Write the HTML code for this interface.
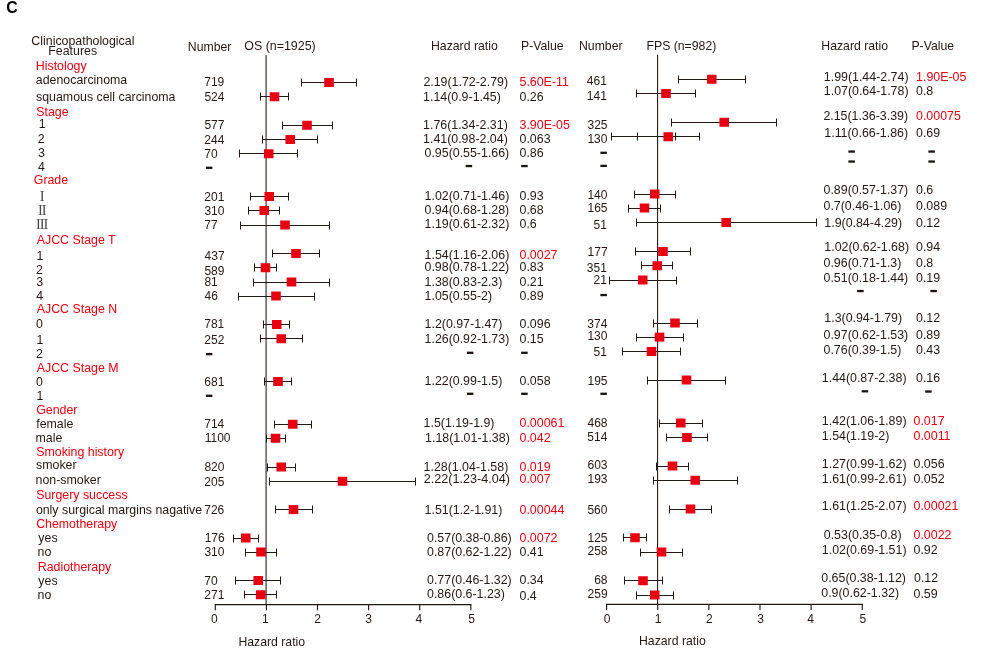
<!DOCTYPE html>
<html><head><meta charset="utf-8"><title>Forest plot</title>
<style>
html,body{margin:0;padding:0;background:#fff;}
svg{display:block;will-change:transform;}
text{font-family:"Liberation Sans",sans-serif;}
.b{font-family:"Liberation Sans",sans-serif;font-weight:bold;}
.s{font-family:"Liberation Serif",serif;}
</style></head>
<body>
<svg width="981" height="664" viewBox="0 0 981 664">
<rect x="0" y="0" width="981" height="664" fill="#ffffff"/>
<line x1="266.15" y1="55" x2="266.15" y2="604.6" stroke="#777170" stroke-width="1.75"/>
<line x1="657.55" y1="54.7" x2="657.55" y2="604.3" stroke="#2e2320" stroke-width="1.15"/>
<g stroke="#231815" stroke-width="1.15" fill="none"><line x1="214.75" y1="604.60" x2="471.35" y2="604.60"/><line x1="215.30" y1="604.60" x2="215.30" y2="610.20"/><line x1="266.40" y1="604.60" x2="266.40" y2="610.20"/><line x1="317.50" y1="604.60" x2="317.50" y2="610.20"/><line x1="368.60" y1="604.60" x2="368.60" y2="610.20"/><line x1="419.70" y1="604.60" x2="419.70" y2="610.20"/><line x1="470.80" y1="604.60" x2="470.80" y2="610.20"/></g>
<g stroke="#231815" stroke-width="1.15" fill="none"><line x1="606.05" y1="604.30" x2="862.80" y2="604.30"/><line x1="606.60" y1="604.30" x2="606.60" y2="609.90"/><line x1="657.73" y1="604.30" x2="657.73" y2="609.90"/><line x1="708.86" y1="604.30" x2="708.86" y2="609.90"/><line x1="759.99" y1="604.30" x2="759.99" y2="609.90"/><line x1="811.12" y1="604.30" x2="811.12" y2="609.90"/><line x1="862.25" y1="604.30" x2="862.25" y2="609.90"/></g>
<g stroke="#231815" stroke-width="1" fill="none">
<path d="M301.00 82.50H357.00M301.50 78.50V86.50M356.50 78.50V86.50"/>
<path d="M260.00 96.50H289.00M260.50 92.50V100.50M288.50 92.50V100.50"/>
<path d="M282.00 125.50H333.00M282.50 121.50V129.50M332.50 121.50V129.50"/>
<path d="M262.00 139.50H318.00M262.50 135.50V143.50M317.50 135.50V143.50"/>
<path d="M239.00 153.50H298.00M239.50 149.50V157.50M297.50 149.50V157.50"/>
<path d="M250.00 196.50H289.00M250.50 192.50V200.50M288.50 192.50V200.50"/>
<path d="M248.00 210.50H280.00M248.50 206.50V214.50M279.50 206.50V214.50"/>
<path d="M240.00 225.50H330.00M240.50 221.50V229.50M329.50 221.50V229.50"/>
<path d="M272.00 253.50H320.00M272.50 249.50V257.50M319.50 249.50V257.50"/>
<path d="M254.00 267.50H277.00M254.50 263.50V271.50M276.50 263.50V271.50"/>
<path d="M253.00 282.50H330.00M253.50 278.50V286.50M329.50 278.50V286.50"/>
<path d="M238.00 296.50H315.00M238.50 292.50V300.50M314.50 292.50V300.50"/>
<path d="M263.00 324.50H290.00M263.50 320.50V328.50M289.50 320.50V328.50"/>
<path d="M260.00 338.50H303.00M260.50 334.50V342.50M302.50 334.50V342.50"/>
<path d="M264.00 381.50H292.00M264.50 377.50V385.50M291.50 377.50V385.50"/>
<path d="M274.00 424.50H312.00M274.50 420.50V428.50M311.50 420.50V428.50"/>
<path d="M266.00 438.50H286.00M266.50 434.50V442.50M285.50 434.50V442.50"/>
<path d="M267.00 467.50H296.00M267.50 463.50V471.50M295.50 463.50V471.50"/>
<path d="M269.00 481.50H416.00M269.50 477.50V485.50M415.50 477.50V485.50"/>
<path d="M275.00 509.50H313.00M275.50 505.50V513.50M312.50 505.50V513.50"/>
<path d="M233.00 538.50H259.00M233.50 534.50V542.50M258.50 534.50V542.50"/>
<path d="M245.00 552.50H277.00M245.50 548.50V556.50M276.50 548.50V556.50"/>
<path d="M235.00 580.50H281.00M235.50 576.50V584.50M280.50 576.50V584.50"/>
<path d="M244.00 594.50H277.00M244.50 590.50V598.50M276.50 590.50V598.50"/>
<path d="M678.00 79.50H746.00M678.50 75.50V83.50M745.50 75.50V83.50"/>
<path d="M636.00 93.50H696.00M636.50 89.50V97.50M695.50 89.50V97.50"/>
<path d="M671.00 122.50H777.00M671.50 118.50V126.50M776.50 118.50V126.50"/>
<path d="M611.00 136.50H700.00M611.50 132.50V140.50M699.50 132.50V140.50"/>
<path d="M634.00 194.50H676.00M634.50 190.50V198.50M675.50 190.50V198.50"/>
<path d="M628.00 208.50H661.00M628.50 204.50V212.50M660.50 204.50V212.50"/>
<path d="M636.00 222.50H817.00M636.50 218.50V226.50M816.50 218.50V226.50"/>
<path d="M635.00 251.50H691.00M635.50 247.50V255.50M690.50 247.50V255.50"/>
<path d="M641.00 265.50H673.00M641.50 261.50V269.50M672.50 261.50V269.50"/>
<path d="M609.00 280.50H677.00M609.50 276.50V284.50M676.50 276.50V284.50"/>
<path d="M653.00 323.50H698.00M653.50 319.50V327.50M697.50 319.50V327.50"/>
<path d="M636.00 337.50H684.00M636.50 333.50V341.50M683.50 333.50V341.50"/>
<path d="M622.00 351.50H681.00M622.50 347.50V355.50M680.50 347.50V355.50"/>
<path d="M647.00 380.50H726.00M647.50 376.50V384.50M725.50 376.50V384.50"/>
<path d="M659.00 423.50H703.00M659.50 419.50V427.50M702.50 419.50V427.50"/>
<path d="M666.00 437.50H708.00M666.50 433.50V441.50M707.50 433.50V441.50"/>
<path d="M656.00 466.50H689.00M656.50 462.50V470.50M688.50 462.50V470.50"/>
<path d="M653.00 480.50H738.00M653.50 476.50V484.50M737.50 476.50V484.50"/>
<path d="M669.00 509.50H712.00M669.50 505.50V513.50M711.50 505.50V513.50"/>
<path d="M623.00 537.50H647.00M623.50 533.50V541.50M646.50 533.50V541.50"/>
<path d="M640.00 552.50H683.00M640.50 548.50V556.50M682.50 548.50V556.50"/>
<path d="M624.00 580.50H663.00M624.50 576.50V584.50M662.50 576.50V584.50"/>
<path d="M636.00 595.50H674.00M636.50 591.50V599.50M673.50 591.50V599.50"/>
<path d="M637.50 132.50V140.50"/>
<path d="M675.50 132.50V140.50"/>
</g>
<g fill="#e60012">
<rect x="324.20" y="78.00" width="9.60" height="9.00"/>
<rect x="269.70" y="92.25" width="9.60" height="9.00"/>
<rect x="302.20" y="120.75" width="9.60" height="9.00"/>
<rect x="285.45" y="135.00" width="9.60" height="9.00"/>
<rect x="263.95" y="149.25" width="9.60" height="9.00"/>
<rect x="264.45" y="192.00" width="9.60" height="9.00"/>
<rect x="259.45" y="206.00" width="9.60" height="9.00"/>
<rect x="280.20" y="220.50" width="9.60" height="9.00"/>
<rect x="291.20" y="249.00" width="9.60" height="9.00"/>
<rect x="260.70" y="263.25" width="9.60" height="9.00"/>
<rect x="286.70" y="277.50" width="9.60" height="9.00"/>
<rect x="271.20" y="291.50" width="9.60" height="9.00"/>
<rect x="271.95" y="320.00" width="9.60" height="9.00"/>
<rect x="276.45" y="334.25" width="9.60" height="9.00"/>
<rect x="273.20" y="377.00" width="9.60" height="9.00"/>
<rect x="287.95" y="419.75" width="9.60" height="9.00"/>
<rect x="270.70" y="433.75" width="9.60" height="9.00"/>
<rect x="276.45" y="462.50" width="9.60" height="9.00"/>
<rect x="337.70" y="476.75" width="9.60" height="9.00"/>
<rect x="288.70" y="505.10" width="9.60" height="9.00"/>
<rect x="240.95" y="533.50" width="9.60" height="9.00"/>
<rect x="256.20" y="547.50" width="9.60" height="9.00"/>
<rect x="253.45" y="576.00" width="9.60" height="9.00"/>
<rect x="255.95" y="590.25" width="9.60" height="9.00"/>
<rect x="706.95" y="74.75" width="9.60" height="9.00"/>
<rect x="661.20" y="89.00" width="9.60" height="9.00"/>
<rect x="719.45" y="117.75" width="9.60" height="9.00"/>
<rect x="663.45" y="132.25" width="9.60" height="9.00"/>
<rect x="649.95" y="189.50" width="9.60" height="9.00"/>
<rect x="639.70" y="203.50" width="9.60" height="9.00"/>
<rect x="721.45" y="218.00" width="9.60" height="9.00"/>
<rect x="658.20" y="247.00" width="9.60" height="9.00"/>
<rect x="652.45" y="261.25" width="9.60" height="9.00"/>
<rect x="637.95" y="275.50" width="9.60" height="9.00"/>
<rect x="670.20" y="318.50" width="9.60" height="9.00"/>
<rect x="654.70" y="332.60" width="9.60" height="9.00"/>
<rect x="646.70" y="347.00" width="9.60" height="9.00"/>
<rect x="681.70" y="375.50" width="9.60" height="9.00"/>
<rect x="675.95" y="418.50" width="9.60" height="9.00"/>
<rect x="682.20" y="433.00" width="9.60" height="9.00"/>
<rect x="667.70" y="461.50" width="9.60" height="9.00"/>
<rect x="690.45" y="475.75" width="9.60" height="9.00"/>
<rect x="685.70" y="504.50" width="9.60" height="9.00"/>
<rect x="630.20" y="533.25" width="9.60" height="9.00"/>
<rect x="656.70" y="547.50" width="9.60" height="9.00"/>
<rect x="638.20" y="576.25" width="9.60" height="9.00"/>
<rect x="649.95" y="590.50" width="9.60" height="9.00"/>
</g>
<g fill="#1a1311">
<rect x="205.90" y="166.65" width="6.5" height="2.3"/>
<rect x="205.90" y="352.95" width="6.5" height="2.3"/>
<rect x="205.90" y="394.65" width="6.5" height="2.3"/>
<rect x="465.65" y="164.90" width="6.5" height="2.3"/>
<rect x="466.90" y="351.65" width="6.5" height="2.3"/>
<rect x="466.90" y="392.65" width="6.5" height="2.3"/>
<rect x="521.15" y="164.90" width="6.5" height="2.3"/>
<rect x="521.15" y="351.65" width="6.5" height="2.3"/>
<rect x="521.15" y="392.65" width="6.5" height="2.3"/>
<rect x="600.40" y="151.65" width="6.5" height="2.3"/>
<rect x="600.40" y="164.75" width="6.5" height="2.3"/>
<rect x="600.40" y="293.90" width="6.5" height="2.3"/>
<rect x="600.40" y="392.65" width="6.5" height="2.3"/>
<rect x="848.40" y="150.40" width="6.5" height="2.3"/>
<rect x="848.40" y="160.40" width="6.5" height="2.3"/>
<rect x="857.15" y="289.90" width="6.5" height="2.3"/>
<rect x="861.65" y="390.15" width="6.5" height="2.3"/>
<rect x="928.40" y="150.40" width="6.5" height="2.3"/>
<rect x="928.40" y="160.40" width="6.5" height="2.3"/>
<rect x="930.40" y="289.90" width="6.5" height="2.3"/>
<rect x="925.15" y="390.40" width="6.5" height="2.3"/>
</g>
<text class="b" x="6.25" y="12.90" font-size="15.8" fill="#000000">C</text>
<text x="31.37" y="45.20" font-size="12.37" fill="#231815">Clinicopathological</text>
<text x="48.29" y="54.70" font-size="12.37" fill="#231815">Features</text>
<text x="187.80" y="51.00" font-size="12.25" fill="#231815">Number</text>
<text x="244.21" y="50.40" font-size="12.45" fill="#231815">OS (n=1925)</text>
<text x="431.00" y="50.00" font-size="12.25" fill="#231815">Hazard ratio</text>
<text x="521.00" y="50.00" font-size="12.25" fill="#231815">P-Value</text>
<text x="579.00" y="50.40" font-size="12.25" fill="#231815">Number</text>
<text x="646.50" y="50.40" font-size="12.25" fill="#231815">FPS (n=982)</text>
<text x="821.30" y="50.40" font-size="12.25" fill="#231815">Hazard ratio</text>
<text x="911.40" y="50.40" font-size="12.25" fill="#231815">P-Value</text>
<text x="35.79" y="69.60" font-size="12.37" fill="#e60012">Histology</text>
<text x="35.87" y="84.40" font-size="12.37" fill="#231815">adenocarcinoma</text>
<text x="36.06" y="100.80" font-size="12.37" fill="#231815">squamous cell carcinoma</text>
<text x="36.24" y="115.70" font-size="12.37" fill="#e60012">Stage</text>
<text x="38.76" y="128.40" font-size="12.37" fill="#231815">1</text>
<text x="37.78" y="143.10" font-size="12.37" fill="#231815">2</text>
<text x="37.93" y="157.40" font-size="12.37" fill="#231815">3</text>
<text x="38.12" y="170.60" font-size="12.37" fill="#231815">4</text>
<text x="33.78" y="183.70" font-size="12.37" fill="#e60012">Grade</text>
<text x="36.78" y="243.70" font-size="12.37" fill="#e60012">AJCC Stage T</text>
<text x="36.46" y="259.80" font-size="12.37" fill="#231815">1</text>
<text x="35.98" y="274.40" font-size="12.37" fill="#231815">2</text>
<text x="36.13" y="286.40" font-size="12.37" fill="#231815">3</text>
<text x="36.32" y="300.00" font-size="12.37" fill="#231815">4</text>
<text x="36.78" y="313.10" font-size="12.37" fill="#e60012">AJCC Stage N</text>
<text x="36.12" y="328.20" font-size="12.37" fill="#231815">0</text>
<text x="36.46" y="344.00" font-size="12.37" fill="#231815">1</text>
<text x="35.98" y="358.10" font-size="12.37" fill="#231815">2</text>
<text x="36.78" y="372.20" font-size="12.37" fill="#e60012">AJCC Stage M</text>
<text x="36.12" y="385.70" font-size="12.37" fill="#231815">0</text>
<text x="36.46" y="400.40" font-size="12.37" fill="#231815">1</text>
<text x="36.18" y="413.90" font-size="12.37" fill="#e60012">Gender</text>
<text x="36.22" y="428.00" font-size="12.37" fill="#231815">female</text>
<text x="35.58" y="442.10" font-size="12.37" fill="#231815">male</text>
<text x="36.24" y="455.70" font-size="12.37" fill="#e60012">Smoking history</text>
<text x="36.06" y="469.40" font-size="12.37" fill="#231815">smoker</text>
<text x="35.58" y="483.80" font-size="12.37" fill="#231815">non-smoker</text>
<text x="36.24" y="499.10" font-size="12.37" fill="#e60012">Surgery success</text>
<text x="35.88" y="513.70" font-size="12.37" fill="#231815">only surgical margins nagative</text>
<text x="36.17" y="528.10" font-size="12.37" fill="#e60012">Chemotherapy</text>
<text x="38.37" y="541.90" font-size="12.37" fill="#231815">yes</text>
<text x="37.58" y="556.40" font-size="12.37" fill="#231815">no</text>
<text x="37.79" y="570.90" font-size="12.37" fill="#e60012">Radiotherapy</text>
<text x="38.37" y="584.70" font-size="12.37" fill="#231815">yes</text>
<text x="37.58" y="599.30" font-size="12.37" fill="#231815">no</text>
<text class="s" x="39.68" y="200.70" font-size="14.5" letter-spacing="-1.1" fill="#4f4a4a">I</text>
<text class="s" x="37.91" y="215.00" font-size="14.5" letter-spacing="-1.1" fill="#4f4a4a">II</text>
<text class="s" x="35.95" y="229.10" font-size="14.5" letter-spacing="-1.1" fill="#4f4a4a">III</text>
<text x="204.28" y="86.20" font-size="12" fill="#231815">719</text>
<text x="204.42" y="100.80" font-size="12" fill="#231815">524</text>
<text x="204.42" y="129.00" font-size="12" fill="#231815">577</text>
<text x="204.30" y="143.60" font-size="12" fill="#231815">244</text>
<text x="204.28" y="157.70" font-size="12" fill="#231815">70</text>
<text x="204.30" y="201.40" font-size="12" fill="#231815">201</text>
<text x="204.44" y="215.40" font-size="12" fill="#231815">310</text>
<text x="204.28" y="229.00" font-size="12" fill="#231815">77</text>
<text x="204.62" y="259.80" font-size="12" fill="#231815">437</text>
<text x="204.42" y="274.60" font-size="12" fill="#231815">589</text>
<text x="204.38" y="286.40" font-size="12" fill="#231815">81</text>
<text x="204.62" y="300.00" font-size="12" fill="#231815">46</text>
<text x="204.28" y="328.20" font-size="12" fill="#231815">781</text>
<text x="204.30" y="344.00" font-size="12" fill="#231815">252</text>
<text x="204.29" y="386.40" font-size="12" fill="#231815">681</text>
<text x="204.28" y="428.00" font-size="12" fill="#231815">714</text>
<text x="204.69" y="442.10" font-size="12" fill="#231815">1100</text>
<text x="204.38" y="471.40" font-size="12" fill="#231815">820</text>
<text x="204.30" y="486.40" font-size="12" fill="#231815">205</text>
<text x="204.28" y="514.20" font-size="12" fill="#231815">726</text>
<text x="204.69" y="542.40" font-size="12" fill="#231815">176</text>
<text x="204.44" y="556.40" font-size="12" fill="#231815">310</text>
<text x="204.28" y="584.90" font-size="12" fill="#231815">70</text>
<text x="204.30" y="599.30" font-size="12" fill="#231815">271</text>
<text x="423.38" y="86.10" font-size="12.4" fill="#231815">2.19(1.72-2.79)</text>
<text x="423.06" y="100.65" font-size="12.4" fill="#231815">1.14(0.9-1.45)</text>
<text x="423.06" y="128.65" font-size="12.4" fill="#231815">1.76(1.34-2.31)</text>
<text x="423.06" y="142.90" font-size="12.4" fill="#231815">1.41(0.98-2.04)</text>
<text x="424.52" y="157.15" font-size="12.4" fill="#231815">0.95(0.55-1.66)</text>
<text x="424.56" y="200.40" font-size="12.4" fill="#231815">1.02(0.71-1.46)</text>
<text x="424.52" y="214.40" font-size="12.4" fill="#231815">0.94(0.68-1.28)</text>
<text x="424.56" y="228.40" font-size="12.4" fill="#231815">1.19(0.61-2.32)</text>
<text x="424.56" y="259.15" font-size="12.4" fill="#231815">1.54(1.16-2.06)</text>
<text x="424.52" y="270.90" font-size="12.4" fill="#231815">0.98(0.78-1.22)</text>
<text x="424.56" y="286.15" font-size="12.4" fill="#231815">1.38(0.83-2.3)</text>
<text x="424.56" y="300.15" font-size="12.4" fill="#231815">1.05(0.55-2)</text>
<text x="424.56" y="327.90" font-size="12.4" fill="#231815">1.2(0.97-1.47)</text>
<text x="424.56" y="343.00" font-size="12.4" fill="#231815">1.26(0.92-1.73)</text>
<text x="424.56" y="384.90" font-size="12.4" fill="#231815">1.22(0.99-1.5)</text>
<text x="423.56" y="426.90" font-size="12.4" fill="#231815">1.5(1.19-1.9)</text>
<text x="425.06" y="441.65" font-size="12.4" fill="#231815">1.18(1.01-1.38)</text>
<text x="423.56" y="470.90" font-size="12.4" fill="#231815">1.28(1.04-1.58)</text>
<text x="423.87" y="483.40" font-size="12.6" fill="#231815">2.22(1.23-4.04)</text>
<text x="424.56" y="513.65" font-size="12.4" fill="#231815">1.51(1.2-1.91)</text>
<text x="427.02" y="541.65" font-size="12.4" fill="#231815">0.57(0.38-0.86)</text>
<text x="427.02" y="555.90" font-size="12.4" fill="#231815">0.87(0.62-1.22)</text>
<text x="427.02" y="584.15" font-size="12.4" fill="#231815">0.77(0.46-1.32)</text>
<text x="427.02" y="598.40" font-size="12.4" fill="#231815">0.86(0.6-1.23)</text>
<text x="519.50" y="86.10" font-size="12.4" fill="#e60012">5.60E-11</text>
<text x="519.52" y="100.65" font-size="12.4" fill="#231815">0.26</text>
<text x="519.53" y="128.65" font-size="12.4" fill="#e60012">3.90E-05</text>
<text x="519.52" y="142.90" font-size="12.4" fill="#231815">0.063</text>
<text x="519.52" y="157.15" font-size="12.4" fill="#231815">0.86</text>
<text x="519.52" y="200.40" font-size="12.4" fill="#231815">0.93</text>
<text x="519.52" y="214.40" font-size="12.4" fill="#231815">0.68</text>
<text x="519.52" y="228.40" font-size="12.4" fill="#231815">0.6</text>
<text x="519.52" y="259.15" font-size="12.4" fill="#e60012">0.0027</text>
<text x="519.52" y="270.90" font-size="12.4" fill="#231815">0.83</text>
<text x="519.52" y="286.15" font-size="12.4" fill="#231815">0.21</text>
<text x="519.52" y="300.15" font-size="12.4" fill="#231815">0.89</text>
<text x="519.52" y="327.90" font-size="12.4" fill="#231815">0.096</text>
<text x="519.52" y="343.00" font-size="12.4" fill="#231815">0.15</text>
<text x="519.52" y="384.90" font-size="12.4" fill="#231815">0.058</text>
<text x="519.52" y="426.90" font-size="12.4" fill="#e60012">0.00061</text>
<text x="519.52" y="441.65" font-size="12.4" fill="#e60012">0.042</text>
<text x="519.52" y="470.90" font-size="12.4" fill="#e60012">0.019</text>
<text x="519.52" y="483.40" font-size="12.4" fill="#e60012">0.007</text>
<text x="519.52" y="513.65" font-size="12.4" fill="#e60012">0.00044</text>
<text x="519.52" y="541.65" font-size="12.4" fill="#e60012">0.0072</text>
<text x="519.52" y="555.90" font-size="12.4" fill="#231815">0.41</text>
<text x="519.52" y="584.15" font-size="12.4" fill="#231815">0.34</text>
<text x="519.52" y="600.40" font-size="12.4" fill="#231815">0.4</text>
<text x="586.81" y="84.90" font-size="12" fill="#231815">461</text>
<text x="586.81" y="100.40" font-size="12" fill="#231815">141</text>
<text x="587.48" y="128.65" font-size="12" fill="#231815">325</text>
<text x="587.45" y="142.90" font-size="12" fill="#231815">130</text>
<text x="587.45" y="198.65" font-size="12" fill="#231815">140</text>
<text x="587.48" y="212.40" font-size="12" fill="#231815">165</text>
<text x="593.49" y="228.90" font-size="12" fill="#231815">51</text>
<text x="587.58" y="256.40" font-size="12" fill="#231815">177</text>
<text x="586.81" y="271.90" font-size="12" fill="#231815">351</text>
<text x="593.49" y="284.15" font-size="12" fill="#231815">21</text>
<text x="587.33" y="327.90" font-size="12" fill="#231815">374</text>
<text x="587.45" y="339.90" font-size="12" fill="#231815">130</text>
<text x="593.49" y="355.90" font-size="12" fill="#231815">51</text>
<text x="587.48" y="385.40" font-size="12" fill="#231815">195</text>
<text x="587.50" y="426.90" font-size="12" fill="#231815">468</text>
<text x="587.33" y="440.65" font-size="12" fill="#231815">514</text>
<text x="587.51" y="469.15" font-size="12" fill="#231815">603</text>
<text x="587.51" y="483.40" font-size="12" fill="#231815">193</text>
<text x="587.45" y="513.65" font-size="12" fill="#231815">560</text>
<text x="587.48" y="541.65" font-size="12" fill="#231815">125</text>
<text x="587.50" y="555.40" font-size="12" fill="#231815">258</text>
<text x="594.17" y="584.15" font-size="12" fill="#231815">68</text>
<text x="587.55" y="598.40" font-size="12" fill="#231815">259</text>
<text x="823.81" y="80.90" font-size="12.4" fill="#231815">1.99(1.44-2.74)</text>
<text x="823.81" y="95.40" font-size="12.4" fill="#231815">1.07(0.64-1.78)</text>
<text x="823.38" y="119.90" font-size="12.4" fill="#231815">2.15(1.36-3.39)</text>
<text x="824.31" y="137.40" font-size="12.4" fill="#231815">1.11(0.66-1.86)</text>
<text x="823.52" y="193.90" font-size="12.4" fill="#231815">0.89(0.57-1.37)</text>
<text x="823.52" y="209.90" font-size="12.4" fill="#231815">0.7(0.46-1.06)</text>
<text x="824.31" y="226.90" font-size="12.4" fill="#231815">1.9(0.84-4.29)</text>
<text x="824.31" y="251.40" font-size="12.4" fill="#231815">1.02(0.62-1.68)</text>
<text x="823.52" y="267.15" font-size="12.4" fill="#231815">0.96(0.71-1.3)</text>
<text x="823.52" y="281.65" font-size="12.4" fill="#231815">0.51(0.18-1.44)</text>
<text x="824.31" y="322.15" font-size="12.4" fill="#231815">1.3(0.94-1.79)</text>
<text x="823.52" y="338.65" font-size="12.4" fill="#231815">0.97(0.62-1.53)</text>
<text x="823.52" y="353.90" font-size="12.4" fill="#231815">0.76(0.39-1.5)</text>
<text x="821.81" y="381.65" font-size="12.4" fill="#231815">1.44(0.87-2.38)</text>
<text x="821.81" y="424.90" font-size="12.4" fill="#231815">1.42(1.06-1.89)</text>
<text x="821.81" y="439.90" font-size="12.4" fill="#231815">1.54(1.19-2)</text>
<text x="821.81" y="468.40" font-size="12.4" fill="#231815">1.27(0.99-1.62)</text>
<text x="821.81" y="483.15" font-size="12.4" fill="#231815">1.61(0.99-2.61)</text>
<text x="821.81" y="510.40" font-size="12.4" fill="#231815">1.61(1.25-2.07)</text>
<text x="823.77" y="539.40" font-size="12.4" fill="#231815">0.53(0.35-0.8)</text>
<text x="821.81" y="554.40" font-size="12.4" fill="#231815">1.02(0.69-1.51)</text>
<text x="821.27" y="582.40" font-size="12.4" fill="#231815">0.65(0.38-1.12)</text>
<text x="821.27" y="596.65" font-size="12.4" fill="#231815">0.9(0.62-1.32)</text>
<text x="916.06" y="80.90" font-size="12.4" fill="#e60012">1.90E-05</text>
<text x="916.02" y="95.40" font-size="12.4" fill="#231815">0.8</text>
<text x="916.02" y="119.90" font-size="12.4" fill="#e60012">0.00075</text>
<text x="916.02" y="137.40" font-size="12.4" fill="#231815">0.69</text>
<text x="916.02" y="193.90" font-size="12.4" fill="#231815">0.6</text>
<text x="916.02" y="209.90" font-size="12.4" fill="#231815">0.089</text>
<text x="916.02" y="226.90" font-size="12.4" fill="#231815">0.12</text>
<text x="916.02" y="251.40" font-size="12.4" fill="#231815">0.94</text>
<text x="916.02" y="267.15" font-size="12.4" fill="#231815">0.8</text>
<text x="916.02" y="281.65" font-size="12.4" fill="#231815">0.19</text>
<text x="916.02" y="322.15" font-size="12.4" fill="#231815">0.12</text>
<text x="916.02" y="338.65" font-size="12.4" fill="#231815">0.89</text>
<text x="916.02" y="353.90" font-size="12.4" fill="#231815">0.43</text>
<text x="916.02" y="381.65" font-size="12.4" fill="#231815">0.16</text>
<text x="913.52" y="424.90" font-size="12.4" fill="#e60012">0.017</text>
<text x="913.52" y="439.90" font-size="12.4" fill="#e60012">0.0011</text>
<text x="913.52" y="468.40" font-size="12.4" fill="#231815">0.056</text>
<text x="913.52" y="483.15" font-size="12.4" fill="#231815">0.052</text>
<text x="913.52" y="510.40" font-size="12.4" fill="#e60012">0.00021</text>
<text x="913.52" y="539.40" font-size="12.4" fill="#e60012">0.0022</text>
<text x="913.52" y="554.40" font-size="12.4" fill="#231815">0.92</text>
<text x="914.02" y="582.40" font-size="12.4" fill="#231815">0.12</text>
<text x="913.52" y="598.40" font-size="12.4" fill="#231815">0.59</text>
<text x="211.06" y="622.70" font-size="12" fill="#231815">0</text>
<text x="603.76" y="622.70" font-size="12" fill="#231815">0</text>
<text x="262.00" y="622.70" font-size="12" fill="#231815">1</text>
<text x="654.73" y="622.70" font-size="12" fill="#231815">1</text>
<text x="314.16" y="622.70" font-size="12" fill="#231815">2</text>
<text x="706.02" y="622.70" font-size="12" fill="#231815">2</text>
<text x="365.30" y="622.70" font-size="12" fill="#231815">3</text>
<text x="757.19" y="622.70" font-size="12" fill="#231815">3</text>
<text x="415.60" y="622.70" font-size="12" fill="#231815">4</text>
<text x="807.32" y="622.70" font-size="12" fill="#231815">4</text>
<text x="468.37" y="622.70" font-size="12" fill="#231815">5</text>
<text x="859.42" y="622.70" font-size="12" fill="#231815">5</text>
<text x="238.40" y="645.60" font-size="12.25" fill="#231815">Hazard ratio</text>
<text x="639.00" y="645.00" font-size="12.25" fill="#231815">Hazard ratio</text>
</svg>
</body></html>
